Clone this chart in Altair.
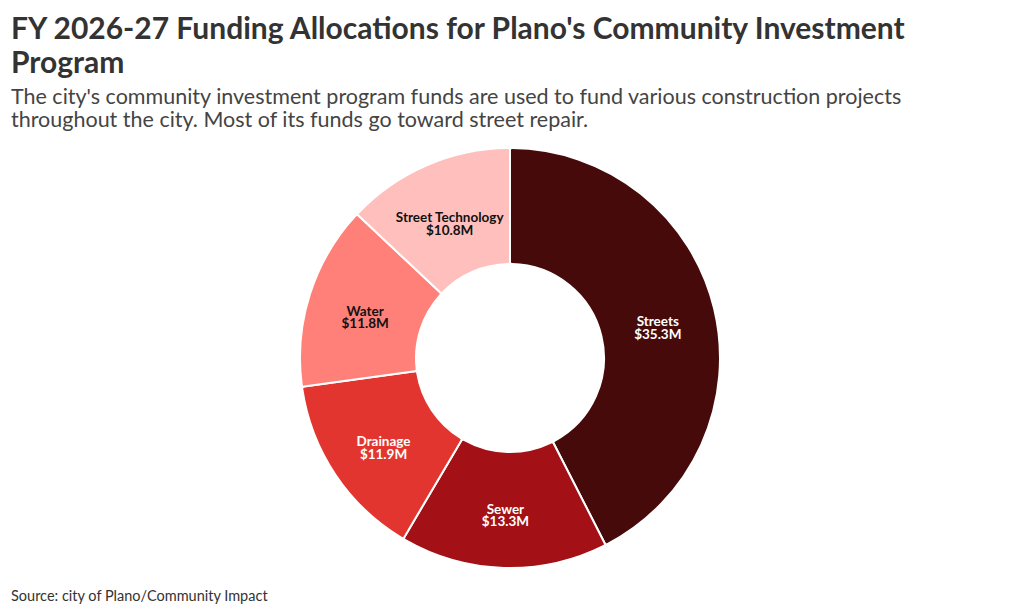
import altair as alt
import pandas as pd

categories = ["Streets", "Sewer", "Drainage", "Water", "Street Technology"]
values = [35.3, 13.3, 11.9, 11.8, 10.8]
labels = ["$35.3M", "$13.3M", "$11.9M", "$11.8M", "$10.8M"]
colors = ["#470a0a", "#a31016", "#e3352f", "#ff8079", "#ffc0bd"]

df = pd.DataFrame({
    "category": categories,
    "value": values,
    "label": [f"{c}\n{l}" for c, l in zip(categories, labels)],
    "order": list(range(len(categories))),
})

FONT = "Lato"
W, H = 1004, 600

base = alt.Chart(df).encode(
    theta=alt.Theta("value:Q", stack=True),
    order=alt.Order("order:Q"),
)

CX, CY = 502, 215

arcs = base.mark_arc(
    innerRadius=94, outerRadius=210, stroke="white", strokeWidth=2, cornerRadius=2
).encode(
    color=alt.Color("category:N", scale=alt.Scale(domain=categories, range=colors), legend=None),
    x=alt.value(CX), y=alt.value(CY),
)

text = base.mark_text(
    radius=152, font=FONT, fontSize=13.5, fontWeight="bold", lineBreak="\n", lineHeight=12.5,
    align="center", baseline="middle",
).encode(
    text=alt.Text("label:N"),
    x=alt.value(CX), y=alt.value(CY),
    color=alt.condition(
        "datum.category === 'Water' || datum.category === 'Street Technology'",
        alt.value("#111111"), alt.value("#ffffff"),
    ),
)

source = alt.Chart(pd.DataFrame({"t": ["Source: city of Plano/Community Impact"]})).mark_text(
    font=FONT, fontSize=14.5, color="#333333", align="left", baseline="alphabetic"
).encode(text="t:N", x=alt.value(3), y=alt.value(458))

chart = alt.layer(arcs, text, source).properties(
    width=W, height=H,
    autosize=alt.AutoSizeParams(type="fit", contains="padding"),
    padding={"left": 0, "right": 0, "top": 6, "bottom": 0},
    title=alt.TitleParams(
        text=["FY 2026-27 Funding Allocations for Plano's Community Investment", "Program"],
        subtitle=["The city's community investment program funds are used to fund various construction projects",
                  "throughout the city. Most of its funds go toward street repair."],
        anchor="start", font=FONT, fontSize=30, fontWeight="bold", color="#333333",
        lineHeight=34, subtitleFont=FONT, subtitleFontSize=21.5, subtitleColor="#444444",
        subtitleLineHeight=23, subtitlePadding=8, offset=12, dx=3,
    ),
).configure_view(stroke=None)

chart.save("out.html", embed_options={"renderer": "svg", "actions": False})
